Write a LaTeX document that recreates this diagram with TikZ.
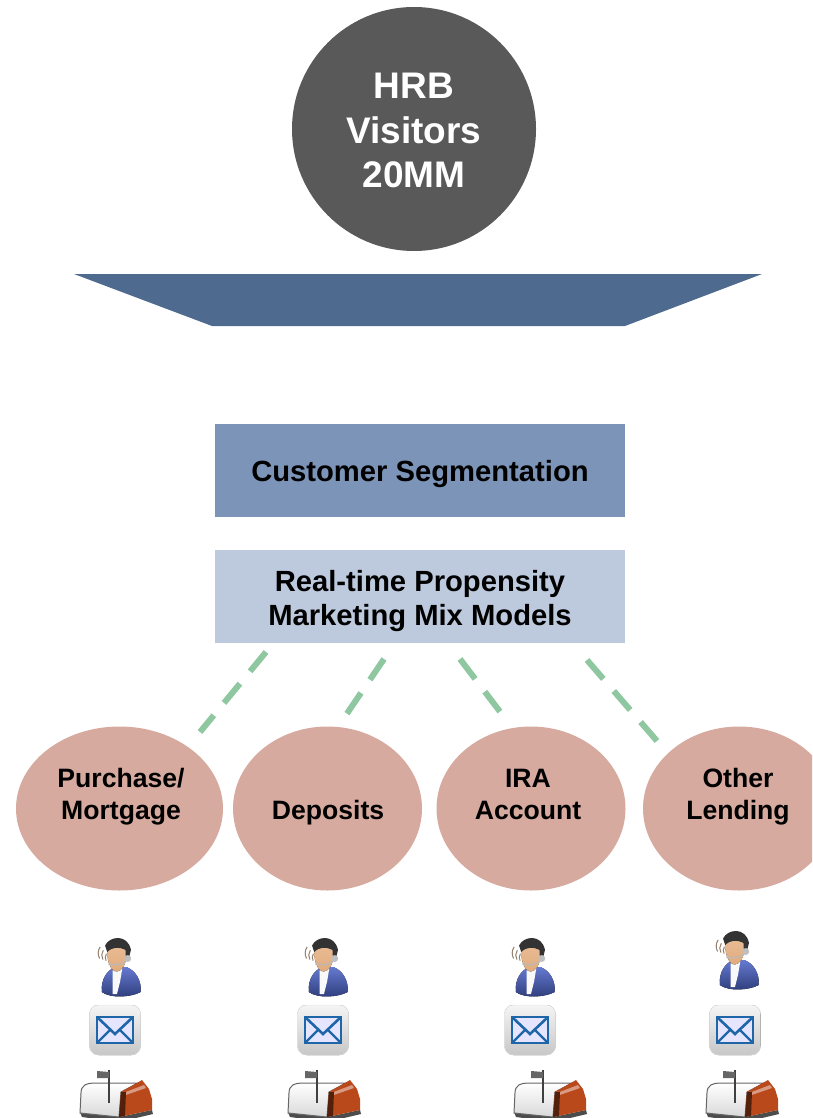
\documentclass[tikz,border=0pt]{standalone}
\usepackage{fontspec}
\setmainfont{Liberation Sans}
\usetikzlibrary{shapes.geometric}
\definecolor{circgray}{HTML}{595959}
\definecolor{funnel}{HTML}{4F6A8F}
\definecolor{segblue}{HTML}{7B94B7}
\definecolor{modelblue}{HTML}{BDCADD}
\definecolor{rose}{HTML}{D7AAA0}
\definecolor{dashgreen}{HTML}{8FC7A0}
\definecolor{mailblue}{HTML}{1F66A8}
\definecolor{shirt}{HTML}{4A62C8}
\definecolor{doorred}{HTML}{B9481A}
\definecolor{skin}{HTML}{E8B68C}
\tikzset{
  hubshape/.style={circle,fill=circgray,inner sep=0pt,minimum size=244pt},
  hubtext/.style={text=white,font=\fontsize{37}{44.5}\selectfont\bfseries,align=center,inner sep=0pt},
  bandbox/.style={rectangle,inner sep=0pt,minimum width=410pt,minimum height=93pt},
  bandtext/.style={align=center,inner sep=0pt,font=\fontsize{29.2}{34.5}\selectfont\bfseries},
  product/.style={ellipse,fill=rose,inner sep=0pt},
  prodtext/.style={align=center,inner sep=0pt,font=\fontsize{26.6}{32}\selectfont\bfseries},
  linkdash/.style={draw=dashgreen,line width=6pt,dash pattern=on 25pt off 16pt},
  agent/.pic={
    \draw[gray!70!brown,line width=1pt] (-17,-6) arc[start angle=150,end angle=215,radius=10];
    \draw[gray!70!brown,line width=1pt] (-14,-5) arc[start angle=150,end angle=215,radius=8];
    \draw[gray!70!brown,line width=1pt] (-11,-4) arc[start angle=150,end angle=215,radius=6];
    \fill[top color=shirt!85!white,bottom color=shirt!60!black]
      (-15,25) .. controls (-16,13) and (-10,5) .. (-3,2) -- (8,2)
      .. controls (16,5) and (22,14) .. (21,25) .. controls (12,30) and (-7,31) .. (-15,25) -- cycle;
    \fill[white!95!gray] (-5,5) -- (4,3) -- (2,15) -- (-1,27) -- (-5,27) -- cycle;
    \fill[top color=skin!90!white,bottom color=skin!80!brown] (-10,-12) .. controls (-10,-21) and (7,-21) .. (8,-10)
      .. controls (8,-1) and (3,6) .. (-1,6) .. controls (-7,6) and (-10,-4) .. (-10,-12) -- cycle;
    \fill[black!80] (-12,-18) .. controls (-8,-27) and (9,-29) .. (12,-14)
      -- (10,-6) -- (7,-9) -- (7,-14) .. controls (1,-17) and (-5,-17) .. (-10,-12) -- cycle;
    \draw[gray!55,line width=1.2pt] (-9,-1) .. controls (-1,1) and (6,-1) .. (10,-6);
    \fill[gray!50] (9,-6) circle[radius=3.2];
  },
  envelope/.pic={
    \fill[top color=white!92!gray,bottom color=black!22,draw=black!10,line width=.5pt,rounded corners=9pt] (-25.5,-25) rectangle (25.5,25);
    \fill[white!90!blue] (-18,-13) rectangle (18,13);
    \draw[mailblue,line width=2.6pt] (-18,-13) rectangle (18,13);
    \draw[mailblue,line width=2.6pt] (-18,-13) -- (0,4) -- (18,-13);
    \draw[mailblue,line width=2.4pt] (-18,13) -- (-5,0) (18,13) -- (5,0);
  },
  mailboxicon/.pic={
    \fill[black!70] (-36,17) -- (3,22) -- (36,15) -- (37,19) -- (3,27) -- (-34,22) -- cycle;
    \fill[top color=white,bottom color=black!15,draw=black!60,line width=1pt]
      (-36,18) -- (-35,-2) .. controls (-35,-10) and (-29,-12) .. (-22,-12) -- (22,-12) -- (5,-3) -- (3,22) -- cycle;
    \fill[doorred] (5,-3) -- (26,-15) -- (33,-6) -- (36,4) -- (36,15) -- (3,22) -- cycle;
    \fill[doorred!55!white] (7,-2) -- (28,-10) -- (30,-7) -- (7,1) -- cycle;
    \fill[black!55!doorred] (5,-3) -- (10,-3) -- (9,21) -- (3,22) -- cycle;
    \draw[black!75,line width=1.6pt] (-7,-25) -- (-7,8);
    \fill[black!60] (-19,-24) -- (-7,-23) -- (-7,-17) -- (-19,-17) -- cycle;
  }
}
\begin{document}
\begin{tikzpicture}[x=1pt,y=-1pt]
\useasboundingbox (0,0) rectangle (812,1118);
\clip (0,0) rectangle (812,1118);

\node[hubshape] (hub) at (414,129) {};
\node[hubtext] (hubt) at (414,130.5) {HRB\\Visitors\\20MM};
\fill[funnel] (74,274) -- (762,274) -- (625,326) -- (212,326) -- cycle;

\node[bandbox,fill=segblue] (seg) at (420,470.5) {};
\node[bandbox,fill=modelblue] (models) at (420,596.5) {};
\node[bandtext] (segt) at (420,474) {Customer Segmentation};
\node[bandtext] (modelst) at (420,601) {Real-time Propensity\\Marketing Mix Models};

\node[product,minimum width=207pt,minimum height=164pt] (p1) at (119.5,808.5) {};
\node[product,minimum width=189pt,minimum height=164pt] (p2) at (327.5,808.5) {};
\node[product,minimum width=189pt,minimum height=164pt] (p3) at (531,808.5) {};
\node[product,minimum width=192pt,minimum height=164pt] (p4) at (739,808.5) {};
\node[prodtext] (p1t) at (121,797) {Purchase/\\Mortgage};
\node[prodtext] (p2t) at (328,813) {Deposits};
\node[prodtext] (p3t) at (528,794) {IRA\\Account};
\node[prodtext] (p4t) at (738,797) {Other\\Lending};

\coordinate (a1) at (266,652); \coordinate (b1) at (200,732);
\coordinate (a2) at (384,659); \coordinate (b2) at (346,715);
\coordinate (a3) at (460,659); \coordinate (b3) at (501,713);
\coordinate (a4) at (587,660); \coordinate (b4) at (657,741);
\draw[linkdash] (a1) -- (b1);
\draw[linkdash] (a2) -- (b2);
\draw[linkdash] (a3) -- (b3);
\draw[linkdash] (a4) -- (b4);

\pic[scale=1.08] at (118,965) {agent};
\pic[scale=1.08] at (325,965) {agent};
\pic[scale=1.08] at (532,965) {agent};
\pic[scale=1.08] at (736,958) {agent};

\pic at (115,1030) {envelope};
\pic at (323,1030) {envelope};
\pic at (530,1030) {envelope};
\pic at (735,1030) {envelope};

\pic at (116,1095) {mailboxicon};
\pic at (324,1095) {mailboxicon};
\pic at (550,1095) {mailboxicon};
\pic at (742,1095) {mailboxicon};
\end{tikzpicture}
\end{document}
